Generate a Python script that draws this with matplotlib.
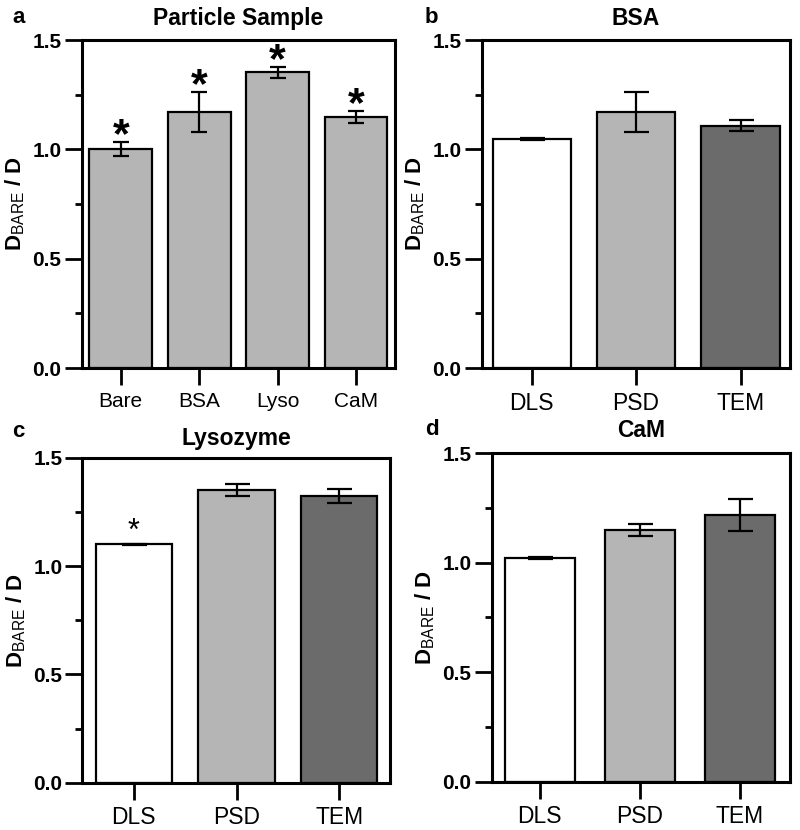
import numpy as np
import matplotlib
matplotlib.use('Agg')
import matplotlib.pyplot as plt
from matplotlib.ticker import MultipleLocator

plt.rcParams['font.family'] = ['Liberation Sans', 'DejaVu Sans']
plt.rcParams['mathtext.fontset'] = 'custom'
plt.rcParams['mathtext.rm'] = 'Liberation Sans'
plt.rcParams['mathtext.bf'] = 'Liberation Sans:bold'

# panel a - all particles
sample_labels = ['Bare', 'BSA', 'Lyso', 'CaM']
sample_vals = [1.00, 1.17, 1.352, 1.149]
sample_err = [0.032, 0.09, 0.025, 0.027]

# panels b-d - method comparison
methods = ['DLS', 'PSD', 'TEM']
bsa_vals = [1.047, 1.169, 1.108]
bsa_err = [0.005, 0.091, 0.025]
lyso_vals = [1.100, 1.351, 1.322]
lyso_err = [0.002, 0.026, 0.032]
cam_vals = [1.023, 1.150, 1.218]
cam_err = [0.004, 0.027, 0.072]

light = '#b5b5b5'
dark = '#6b6b6b'
method_colors = ['white', light, dark]

fig = plt.figure(figsize=(8, 8.3), dpi=100)


def style_axes(ax, tick_fs):
    ax.set_ylim(0, 1.5)
    ax.yaxis.set_major_locator(MultipleLocator(0.5))
    ax.yaxis.set_minor_locator(MultipleLocator(0.25))
    ax.yaxis.set_major_formatter(matplotlib.ticker.FormatStrFormatter('%.1f'))
    for s in ax.spines.values():
        s.set_linewidth(2.2)
    ax.tick_params(axis='y', which='major', direction='out', length=12, width=2,
                   labelsize=15, pad=2.5)
    ax.tick_params(axis='y', which='minor', direction='out', length=5, width=2)
    ax.tick_params(axis='x', which='major', direction='out', length=12, width=2,
                   labelsize=tick_fs, pad=5)
    for lab in ax.get_yticklabels():
        lab.set_fontweight('bold')
    ax.set_ylabel(r'$\mathbf{D}_{\mathrm{BARE}}$ / D', fontsize=16,
                  fontweight='bold', labelpad=4)


def bar_panel(ax, labels, vals, errs, colors, width, xlim, capsize, tick_fs, title, pad):
    x = np.arange(len(labels))
    ax.bar(x, vals, width=width, color=colors, edgecolor='black', linewidth=1.6, zorder=2)
    ax.errorbar(x, vals, yerr=errs, fmt='none', ecolor='black', elinewidth=1.6,
                capsize=capsize, capthick=1.6, zorder=3)
    ax.set_xlim(*xlim)
    ax.set_xticks(x)
    ax.set_xticklabels(labels)
    style_axes(ax, tick_fs)
    ax.set_title(title, fontsize=16.5, fontweight='bold', pad=pad)
    return x


ax_a = fig.add_axes([0.102, 0.5566, 0.392, 0.3952])
xa = bar_panel(ax_a, sample_labels, sample_vals, sample_err, light, 0.8,
               (-0.5, 3.5), 6, 15, 'Particle Sample', 11)
for xi, v, e in zip(xa, sample_vals, sample_err):
    ax_a.text(xi, v + e - 0.022, '*', ha='center', va='baseline',
              fontsize=31, fontweight='bold')

ax_b = fig.add_axes([0.602, 0.5566, 0.385, 0.3952])
bar_panel(ax_b, methods, bsa_vals, bsa_err, method_colors, 0.75,
          (-0.48, 2.47), 9, 16.5, 'BSA', 11)

ax_c = fig.add_axes([0.103, 0.0570, 0.384, 0.3916])
xc = bar_panel(ax_c, methods, lyso_vals, lyso_err, method_colors, 0.74,
               (-0.5, 2.49), 9, 16.5, 'Lysozyme', 9)
ax_c.text(xc[0], lyso_vals[0] + lyso_err[0] + 0.02, '*', ha='center', va='baseline',
          fontsize=22)

ax_d = fig.add_axes([0.6146, 0.0582, 0.373, 0.3957])
bar_panel(ax_d, methods, cam_vals, cam_err, method_colors, 0.7,
          (-0.48, 2.5), 9, 16.5, 'CaM', 12)

fig.text(0.015, 0.972, 'a', fontsize=16, fontweight='bold')
fig.text(0.531, 0.972, 'b', fontsize=16, fontweight='bold')
fig.text(0.015, 0.4735, 'c', fontsize=16, fontweight='bold')
fig.text(0.531, 0.476, 'd', fontsize=16, fontweight='bold')

fig.savefig('out.png', dpi=100)
